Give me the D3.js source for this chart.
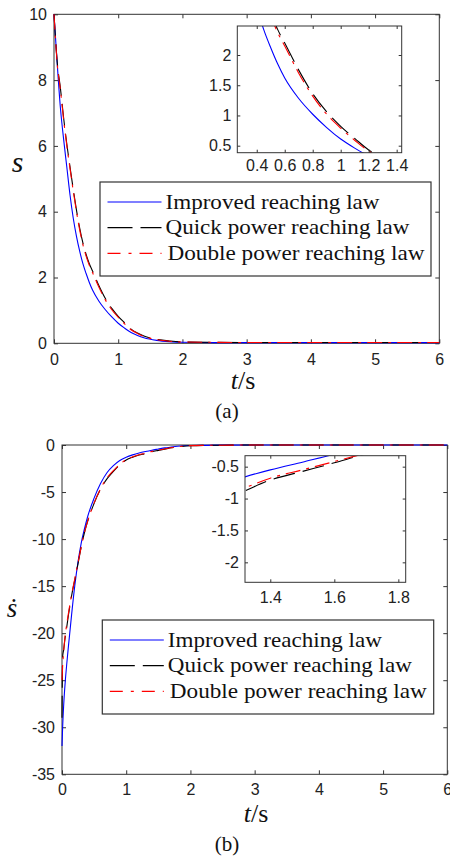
<!DOCTYPE html>
<html>
<head>
<meta charset="utf-8">
<script src="https://cdn.jsdelivr.net/npm/d3@7/dist/d3.min.js"></script>
<style>
  body { margin: 0; background: #fff; }
  svg { display: block; }
</style>
</head>
<body>
<svg width="450" height="859"></svg>
<script>
// ---- data ----
var legendNames = ["Improved reaching law", "Quick power reaching law", "Double power reaching law"];

// (a) sliding variable s
var tS = [0, 0.05, 0.1, 0.15, 0.2, 0.25, 0.3, 0.35, 0.4, 0.45, 0.5, 0.55, 0.6, 0.7, 0.8, 0.9, 1.0, 1.1, 1.2, 1.3, 1.4, 1.6, 1.8, 2.0, 2.5, 3, 4, 5, 6];
var sImproved = [10, 8.5, 7.15, 6.2, 5.35, 4.5, 3.8, 3.25, 2.8, 2.42, 2.12, 1.85, 1.62, 1.28, 1.02, 0.8, 0.61, 0.46, 0.33, 0.24, 0.17, 0.09, 0.05, 0.03, 0.02, 0.02, 0.02, 0.02, 0.02];
var sQuick    = [10, 8.55, 7.75, 6.85, 6.05, 5.35, 4.68, 4.05, 3.5, 3.05, 2.7, 2.42, 2.2, 1.75, 1.36, 1.06, 0.82, 0.62, 0.43, 0.31, 0.22, 0.12, 0.07, 0.04, 0.03, 0.025, 0.025, 0.025, 0.025];
var sDouble   = [10, 8.5, 7.7, 6.8, 6.0, 5.3, 4.63, 4.0, 3.45, 3.0, 2.65, 2.37, 2.15, 1.7, 1.32, 1.02, 0.79, 0.59, 0.41, 0.3, 0.21, 0.11, 0.06, 0.04, 0.03, 0.025, 0.025, 0.025, 0.025];

// (b) derivative of s
var tDs = [0, 0.01, 0.025, 0.05, 0.075, 0.1, 0.15, 0.2, 0.25, 0.3, 0.35, 0.4, 0.5, 0.6, 0.7, 0.8, 0.9, 1.0, 1.1, 1.2, 1.3, 1.4, 1.5, 1.6, 1.7, 1.8, 2.0, 2.5, 3, 4, 5, 6];
var dsImproved = [-32, -30, -27.8, -25.2, -23.2, -21.4, -18, -14.9, -12.4, -10.4, -8.9, -7.6, -5.65, -4.1, -2.95, -2.2, -1.65, -1.3, -1.05, -0.85, -0.69, -0.55, -0.43, -0.31, -0.22, -0.14, -0.05, -0.01, 0, 0, 0, 0];
var dsQuick    = [-29, -22.5, -21.8, -20.4, -19.3, -18.1, -16, -14.3, -12.6, -10.8, -9.3, -8.1, -6.2, -4.7, -3.6, -2.8, -2.1, -1.6, -1.3, -1.07, -0.92, -0.71, -0.575, -0.44, -0.3, -0.2, -0.08, -0.02, 0, 0, 0, 0];
var dsDouble   = [-25, -23.5, -22, -20.2, -19, -17.9, -15.9, -14.2, -12.5, -10.8, -9.3, -8.1, -6.15, -4.65, -3.5, -2.72, -2.05, -1.56, -1.26, -1.03, -0.87, -0.68, -0.55, -0.42, -0.29, -0.19, -0.07, -0.02, 0, 0, 0, 0];

// tick values
var tTicks = [0, 1, 2, 3, 4, 5, 6];
var sTicks = [0, 2, 4, 6, 8, 10];
var dsTicks = [-35, -30, -25, -20, -15, -10, -5, 0];
var insetATicksX = [0.4, 0.6, 0.8, 1, 1.2, 1.4];
var insetATicksY = [0.5, 1, 1.5, 2];
var insetBTicksX = [1.4, 1.6, 1.8];
var insetBTicksY = [-2, -1.5, -1, -0.5];

var colors = ["#0000ff", "#000000", "#ff0000"];
var dashes = [null, "22,8", "15,6,3,6"];
var legendDashes = [null, "25,8", "13,8,3,8"];
var legendTextWidth = [214, 244, 257];

var svg = d3.select("svg");
var fmt = function(d) { return String(d).replace("\u2212", "-"); };

function axesBox(g, x, y, xt, yt, tl, fs, padX, padY, labels) {
    var x0 = x.range()[0], x1 = x.range()[1], y0 = y.range()[0], y1 = y.range()[1];
    var bottom = g.append("g").attr("transform", "translate(0," + y0 + ")")
        .call(d3.axisBottom(x).tickValues(xt).tickSize(-tl).tickPadding(padX).tickFormat(labels ? fmt : ""));
    var top = g.append("g").attr("transform", "translate(0," + y1 + ")")
        .call(d3.axisTop(x).tickValues(xt).tickSize(-tl).tickFormat(""));
    var left = g.append("g").attr("transform", "translate(" + x0 + ",0)")
        .call(d3.axisLeft(y).tickValues(yt).tickSize(-tl).tickPadding(padY).tickFormat(labels ? fmt : ""));
    var right = g.append("g").attr("transform", "translate(" + x1 + ",0)")
        .call(d3.axisRight(y).tickValues(yt).tickSize(-tl).tickFormat(""));
    [bottom, top, left, right].forEach(function(a) {
        a.select(".domain").remove();
        a.selectAll("line").attr("stroke", "#333");
        a.selectAll("text").attr("fill", "#222")
            .style("font-family", "'Liberation Sans', Arial, sans-serif")
            .style("font-size", fs + "px");
    });
    g.append("rect")
        .attr("x", x0).attr("y", y1)
        .attr("width", x1 - x0).attr("height", y0 - y1)
        .attr("fill", "none").attr("stroke", "#333").attr("stroke-width", 1);
}

function drawLines(g, x, y, ts, series, clipId) {
    var line = d3.line()
        .x(function(d) { return x(d[0]); })
        .y(function(d) { return y(d[1]); })
        .curve(d3.curveMonotoneX);
    var lg = g.append("g");
    if (clipId) lg.attr("clip-path", "url(#" + clipId + ")");
    series.forEach(function(vals, i) {
        lg.append("path")
            .datum(ts.map(function(t, j) { return [t, vals[j]]; }))
            .attr("d", line)
            .attr("fill", "none")
            .attr("stroke", colors[i])
            .attr("stroke-width", 1.1)
            .attr("stroke-dasharray", dashes[i]);
    });
}

function legend(g, lx, ly, lw, lh) {
    g.append("rect").attr("x", lx).attr("y", ly).attr("width", lw).attr("height", lh)
        .attr("fill", "#fff").attr("stroke", "#333").attr("stroke-width", 1.2);
    legendNames.forEach(function(name, i) {
        var ry = ly + 20 + i * 25.7;
        g.append("line").attr("x1", lx + 7.5).attr("x2", lx + 61.5).attr("y1", ry).attr("y2", ry)
            .attr("stroke", colors[i]).attr("stroke-width", 1.2)
            .attr("stroke-dasharray", legendDashes[i]);
        g.append("text").attr("x", lx + 65.5 + (i == 2 ? 2 : 0)).attr("y", ry + 6.7)
            .style("font-family", "'Liberation Serif', 'Times New Roman', serif")
            .style("font-size", "22px").attr("fill", "#111")
            .attr("textLength", legendTextWidth[i]).attr("lengthAdjust", "spacingAndGlyphs")
            .text(name);
    });
}

function panel(cfg) {
    var g = svg.append("g");
    var x = d3.scaleLinear().domain([0, 6]).range([cfg.left, cfg.right]);
    var y = d3.scaleLinear().domain(cfg.yDomain).range([cfg.bottom, cfg.top]);
    g.append("rect").attr("x", cfg.left).attr("y", cfg.top)
        .attr("width", cfg.right - cfg.left).attr("height", cfg.bottom - cfg.top).attr("fill", "#fff");
    axesBox(g, x, y, tTicks, cfg.yTicks, 4, 16, cfg.padX, 7, true);
    drawLines(g, x, y, cfg.ts, cfg.series, null);

    // inset
    var ix = d3.scaleLinear().domain(cfg.insetX).range([cfg.inset[0], cfg.inset[1]]);
    var iy = d3.scaleLinear().domain(cfg.insetY).range([cfg.inset[3], cfg.inset[2]]);
    svg.append("defs").append("clipPath").attr("id", cfg.id)
        .append("rect").attr("x", cfg.inset[0]).attr("y", cfg.inset[2])
        .attr("width", cfg.inset[1] - cfg.inset[0]).attr("height", cfg.inset[3] - cfg.inset[2]);
    g.append("rect").attr("x", cfg.inset[0]).attr("y", cfg.inset[2])
        .attr("width", cfg.inset[1] - cfg.inset[0]).attr("height", cfg.inset[3] - cfg.inset[2]).attr("fill", "#fff");
    drawLines(g, ix, iy, cfg.ts, cfg.series, cfg.id);
    axesBox(g, ix, iy, cfg.insetTicksX, cfg.insetTicksY, 3, 16, cfg.insetPadX, 6, true);

    legend(g, cfg.legend[0], cfg.legend[1], cfg.legend[2], cfg.legend[3]);

    // axis labels
    g.append("text").attr("x", cfg.yLabelPos[0]).attr("y", cfg.yLabelPos[1])
        .attr("text-anchor", "middle")
        .style("font-family", "'Liberation Serif', 'DejaVu Serif', serif")
        .style("font-style", "italic").style("font-size", cfg.yLabelSize + "px").attr("fill", "#111")
        .text(cfg.yLabel);
    var xl = g.append("text").attr("x", cfg.xLabelPos[0]).attr("y", cfg.xLabelPos[1])
        .attr("text-anchor", "middle")
        .style("font-family", "'Liberation Serif', 'Times New Roman', serif")
        .style("font-size", "26px").attr("fill", "#111");
    xl.append("tspan").style("font-style", "italic").text("t");
    xl.append("tspan").text("/s");
    g.append("text").attr("x", 227).attr("y", cfg.capY).attr("text-anchor", "middle")
        .style("font-family", "'Liberation Serif', 'Times New Roman', serif")
        .style("font-size", "21px").attr("fill", "#111")
        .text(cfg.caption);
}

panel({
    id: "clipA", left: 54, right: 439.3, top: 14.3, bottom: 343.3,
    yDomain: [0, 10], yTicks: sTicks, padX: 10,
    ts: tS, series: [sImproved, sQuick, sDouble],
    inset: [237.3, 401.7, 26, 152.7], insetX: [0.261, 1.436], insetY: [0.384, 2.48],
    insetTicksX: insetATicksX, insetTicksY: insetATicksY, insetPadX: 7,
    legend: [100, 182, 331, 94],
    yLabel: "s", yLabelPos: [17.5, 171.5], yLabelSize: 30,
    xLabelPos: [243, 389], caption: "(a)", capY: 418
});

panel({
    id: "clipB", left: 62, right: 447.3, top: 445, bottom: 774.3,
    yDomain: [-35, 0], yTicks: dsTicks, padX: 9,
    ts: tDs, series: [dsImproved, dsQuick, dsDouble],
    inset: [245, 405.7, 455.7, 582.3], insetX: [1.321, 1.823], insetY: [-2.313, -0.328],
    insetTicksX: insetBTicksX, insetTicksY: insetBTicksY, insetPadX: 9,
    legend: [102.3, 620, 331.4, 94],
    yLabel: "\u1e61", yLabelPos: [12, 617], yLabelSize: 27,
    xLabelPos: [256, 822], caption: "(b)", capY: 851
});
</script>
</body>
</html>
